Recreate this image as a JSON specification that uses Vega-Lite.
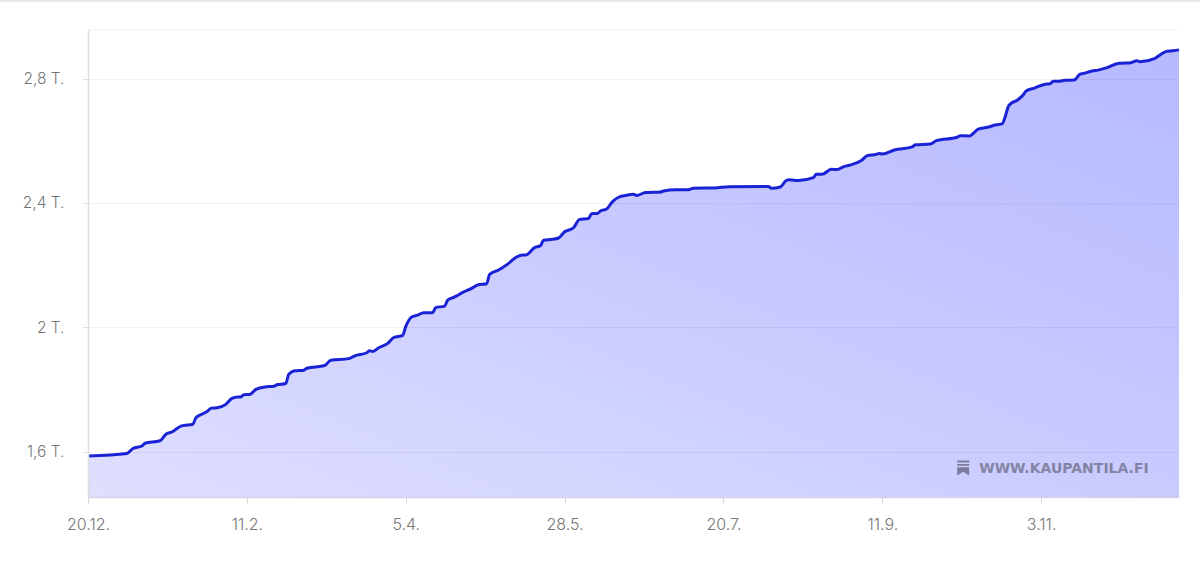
{"$schema":"https://vega.github.io/schema/vega-lite/v6.json","width":1091,"height":467,"autosize":"none","padding":{"left":88,"top":30,"right":21,"bottom":65},"background":"#ffffff","config":{"view":{"stroke":null}},"datasets":{"series":[{"date":"2022-12-20","value":1.586},{"date":"2023-01-02","value":1.594},{"date":"2023-01-04","value":1.61},{"date":"2023-01-07","value":1.618},{"date":"2023-01-08","value":1.627},{"date":"2023-01-13","value":1.635},{"date":"2023-01-15","value":1.656},{"date":"2023-01-17","value":1.663},{"date":"2023-01-20","value":1.682},{"date":"2023-01-21","value":1.684},{"date":"2023-01-24","value":1.688},{"date":"2023-01-25","value":1.709},{"date":"2023-01-27","value":1.72},{"date":"2023-01-29","value":1.731},{"date":"2023-01-30","value":1.739},{"date":"2023-02-01","value":1.741},{"date":"2023-02-04","value":1.752},{"date":"2023-02-06","value":1.771},{"date":"2023-02-08","value":1.776},{"date":"2023-02-09","value":1.776},{"date":"2023-02-10","value":1.783},{"date":"2023-02-12","value":1.784},{"date":"2023-02-14","value":1.8},{"date":"2023-02-17","value":1.808},{"date":"2023-02-20","value":1.81},{"date":"2023-02-21","value":1.815},{"date":"2023-02-24","value":1.819},{"date":"2023-02-25","value":1.849},{"date":"2023-02-27","value":1.86},{"date":"2023-03-02","value":1.862},{"date":"2023-03-03","value":1.868},{"date":"2023-03-09","value":1.877},{"date":"2023-03-11","value":1.894},{"date":"2023-03-17","value":1.899},{"date":"2023-03-19","value":1.908},{"date":"2023-03-23","value":1.918},{"date":"2023-03-24","value":1.924},{"date":"2023-03-25","value":1.922},{"date":"2023-03-27","value":1.934},{"date":"2023-03-30","value":1.948},{"date":"2023-04-01","value":1.967},{"date":"2023-04-04","value":1.974},{"date":"2023-04-05","value":2.002},{"date":"2023-04-07","value":2.033},{"date":"2023-04-09","value":2.039},{"date":"2023-04-11","value":2.047},{"date":"2023-04-14","value":2.047},{"date":"2023-04-15","value":2.063},{"date":"2023-04-18","value":2.068},{"date":"2023-04-19","value":2.087},{"date":"2023-04-21","value":2.096},{"date":"2023-04-22","value":2.101},{"date":"2023-04-24","value":2.112},{"date":"2023-04-27","value":2.125},{"date":"2023-04-29","value":2.136},{"date":"2023-05-02","value":2.14},{"date":"2023-05-03","value":2.17},{"date":"2023-05-06","value":2.184},{"date":"2023-05-09","value":2.203},{"date":"2023-05-12","value":2.226},{"date":"2023-05-14","value":2.232},{"date":"2023-05-15","value":2.232},{"date":"2023-05-18","value":2.256},{"date":"2023-05-20","value":2.263},{"date":"2023-05-21","value":2.28},{"date":"2023-05-24","value":2.283},{"date":"2023-05-26","value":2.287},{"date":"2023-05-28","value":2.307},{"date":"2023-05-31","value":2.32},{"date":"2023-06-02","value":2.347},{"date":"2023-06-05","value":2.35},{"date":"2023-06-06","value":2.365},{"date":"2023-06-08","value":2.366},{"date":"2023-06-09","value":2.374},{"date":"2023-06-11","value":2.38},{"date":"2023-06-13","value":2.404},{"date":"2023-06-15","value":2.418},{"date":"2023-06-18","value":2.425},{"date":"2023-06-20","value":2.428},{"date":"2023-06-21","value":2.424},{"date":"2023-06-24","value":2.433},{"date":"2023-06-29","value":2.435},{"date":"2023-06-30","value":2.438},{"date":"2023-07-04","value":2.442},{"date":"2023-07-08","value":2.442},{"date":"2023-07-10","value":2.447},{"date":"2023-07-17","value":2.448},{"date":"2023-07-22","value":2.452},{"date":"2023-08-04","value":2.453},{"date":"2023-08-05","value":2.447},{"date":"2023-08-08","value":2.451},{"date":"2023-08-10","value":2.472},{"date":"2023-08-11","value":2.474},{"date":"2023-08-14","value":2.472},{"date":"2023-08-19","value":2.481},{"date":"2023-08-20","value":2.492},{"date":"2023-08-22","value":2.492},{"date":"2023-08-25","value":2.508},{"date":"2023-08-27","value":2.507},{"date":"2023-08-29","value":2.516},{"date":"2023-08-31","value":2.521},{"date":"2023-09-04","value":2.536},{"date":"2023-09-06","value":2.552},{"date":"2023-09-09","value":2.556},{"date":"2023-09-10","value":2.559},{"date":"2023-09-11","value":2.557},{"date":"2023-09-15","value":2.57},{"date":"2023-09-21","value":2.58},{"date":"2023-09-22","value":2.587},{"date":"2023-09-27","value":2.589},{"date":"2023-09-29","value":2.6},{"date":"2023-10-06","value":2.611},{"date":"2023-10-07","value":2.616},{"date":"2023-10-10","value":2.615},{"date":"2023-10-13","value":2.637},{"date":"2023-10-16","value":2.643},{"date":"2023-10-19","value":2.651},{"date":"2023-10-21","value":2.654},{"date":"2023-10-22","value":2.677},{"date":"2023-10-23","value":2.709},{"date":"2023-10-24","value":2.72},{"date":"2023-10-26","value":2.73},{"date":"2023-10-28","value":2.747},{"date":"2023-10-29","value":2.76},{"date":"2023-11-01","value":2.77},{"date":"2023-11-04","value":2.781},{"date":"2023-11-06","value":2.783},{"date":"2023-11-07","value":2.791},{"date":"2023-11-09","value":2.791},{"date":"2023-11-11","value":2.794},{"date":"2023-11-14","value":2.795},{"date":"2023-11-16","value":2.814},{"date":"2023-11-17","value":2.816},{"date":"2023-11-20","value":2.824},{"date":"2023-11-22","value":2.827},{"date":"2023-11-25","value":2.835},{"date":"2023-11-29","value":2.849},{"date":"2023-12-03","value":2.851},{"date":"2023-12-05","value":2.857},{"date":"2023-12-06","value":2.854},{"date":"2023-12-11","value":2.865},{"date":"2023-12-13","value":2.878},{"date":"2023-12-15","value":2.888},{"date":"2023-12-17","value":2.889},{"date":"2023-12-19","value":2.892}]},"data":{"name":"series"},"encoding":{"x":{"field":"date","type":"temporal","title":null,"scale":{"type":"utc","domain":[{"year":2022,"month":12,"date":20,"utc":true},{"year":2023,"month":12,"date":19,"utc":true}]}},"y":{"field":"value","type":"quantitative","title":null,"scale":{"domain":[1.454,2.956],"nice":false,"zero":false}}},"layer":[{"mark":{"type":"area","interpolate":"monotone","line":false,"color":{"gradient":"linear","x1":0,"y1":1,"x2":1,"y2":0,"stops":[{"offset":0,"color":"#dfdfff"},{"offset":0.5,"color":"#c9cbff"},{"offset":1,"color":"#b6b9ff"}]}},"encoding":{"y2":{"datum":1.454},"x":{"field":"date","type":"temporal","title":null,"axis":{"values":[{"year":2022,"month":12,"date":20,"utc":true},{"year":2023,"month":2,"date":11,"utc":true},{"year":2023,"month":4,"date":5,"utc":true},{"year":2023,"month":5,"date":28,"utc":true},{"year":2023,"month":7,"date":20,"utc":true},{"year":2023,"month":9,"date":11,"utc":true},{"year":2023,"month":11,"date":3,"utc":true}],"format":"%-d.%-m.","grid":false,"labelFlush":false,"labelOverlap":false,"domainColor":"#d2d2e8","domainWidth":1.5,"tickColor":"#d8d8d8","tickSize":6,"labelColor":"#777777","labelFont":"Inter","labelFontSize":16,"labelPadding":13,"labelFontWeight":300,"zindex":1}},"y":{"field":"value","type":"quantitative","title":null,"axis":{"values":[1.6,2,2.4,2.8],"labelExpr":"replace(datum.value+'','.',',')+' T.'","grid":true,"gridColor":"#000000","gridOpacity":0.05,"domainColor":"#dedede","domainWidth":1.5,"tickColor":"#e2e2e2","tickSize":6,"labelColor":"#777777","labelFont":"Inter","labelFontSize":15.5,"labelPadding":18,"labelFontWeight":300,"zindex":1}}}},{"mark":{"type":"line","interpolate":"monotone","color":"#1a22d6","strokeWidth":3}},{"data":{"values":[{"date":"2022-12-20","date2":"2023-12-19","value":2.956}]},"mark":{"type":"rule","color":"#f1f1f1","strokeWidth":1},"encoding":{"x2":{"field":"date2"}}},{"data":{"values":[{"date":"2022-11-20","date2":"2023-12-27","value":3.049}]},"mark":{"type":"rule","color":"#e8e8e8","strokeWidth":2},"encoding":{"x2":{"field":"date2"}}},{"data":{"values":[{"date":"2023-10-13","value":1.545,"label":"WWW.KAUPANTILA.FI"}]},"mark":{"type":"text","align":"left","baseline":"middle","dx":1,"font":"DejaVu Sans","fontSize":14,"fontWeight":"bold","color":"#8383a4"},"encoding":{"text":{"field":"label"}}},{"data":{"values":[{"date":"2023-10-08","value":1.547}]},"mark":{"type":"point","filled":true,"opacity":1,"size":225,"color":"#7b7b9c","shape":"M-0.8 -1H0.8V-0.76H-0.8Z M-0.8 -0.56H0.8V-0.32H-0.8Z M-0.8 -0.12H0.8V1L0 0.5L-0.8 1Z"}}]}
